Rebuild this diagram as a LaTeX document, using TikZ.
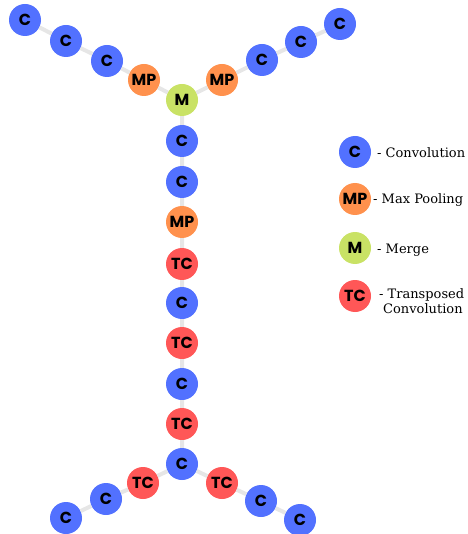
\documentclass[tikz,border=0pt]{standalone}
\usepackage{fontspec}
\setmainfont{DejaVu Serif}
\newfontfamily\nodefont{Poppins}
\definecolor{cblue}{HTML}{5271FF}
\definecolor{corange}{HTML}{FF914D}
\definecolor{cgreen}{HTML}{C9E265}
\definecolor{cred}{HTML}{FF5757}
\definecolor{edgegray}{HTML}{E6E6E6}
\tikzset{
  base/.style={circle, minimum size=32pt, inner sep=0pt, font=\nodefont\bfseries\fontsize{16}{16}\selectfont, text=black},
  cnode/.style={base, fill=cblue},
  mpnode/.style={base, fill=corange},
  mnode/.style={base, fill=cgreen},
  tcnode/.style={base, fill=cred},
  link/.style={draw=edgegray, line width=4pt},
  legend/.style={anchor=west, font=\fontsize{13}{17}\selectfont, inner sep=0pt, align=left}
}
\begin{document}
\begin{tikzpicture}[x=1pt,y=-1pt]
\useasboundingbox (0,0) rectangle (467,534);
% top left
\node[cnode] (a1) at (25,20) {C};
\node[cnode] (a2) at (66,41) {C};
\node[cnode] (a3) at (107,61) {C};
\node[mpnode] (a4) at (144,80) {MP};
\node[mnode] (m) at (182,100) {M};
% top right
\node[mpnode] (b4) at (222,80) {MP};
\node[cnode] (b3) at (262,60) {C};
\node[cnode] (b2) at (301,42) {C};
\node[cnode] (b1) at (340,24) {C};
% vertical
\node[cnode] (v1) at (182,141) {C};
\node[cnode] (v2) at (182,182) {C};
\node[mpnode] (v3) at (182,222) {MP};
\node[tcnode] (v4) at (182,264) {TC};
\node[cnode] (v5) at (182,303) {C};
\node[tcnode] (v6) at (182,343) {TC};
\node[cnode] (v7) at (182,384) {C};
\node[tcnode] (v8) at (182,424) {TC};
\node[cnode] (v9) at (182,464) {C};
% bottom left
\node[tcnode] (c1) at (143,483) {TC};
\node[cnode] (c2) at (106,499) {C};
\node[cnode] (c3) at (66,518) {C};
% bottom right
\node[tcnode] (d1) at (222,483) {TC};
\node[cnode] (d2) at (261,501) {C};
\node[cnode] (d3) at (300,520) {C};
% links
\draw[link] (a1) -- (a2) (a2) -- (a3) (a3) -- (a4) (a4) -- (m)
  (m) -- (b4) (b4) -- (b3) (b3) -- (b2) (b2) -- (b1)
  (m) -- (v1) (v1) -- (v2) (v2) -- (v3) (v3) -- (v4) (v4) -- (v5) (v5) -- (v6) (v6) -- (v7) (v7) -- (v8) (v8) -- (v9)
  (v9) -- (c1) (c1) -- (c2) (c2) -- (c3)
  (v9) -- (d1) (d1) -- (d2) (d2) -- (d3);
% legend
\node[cnode] (lc) at (355,152) {C};
\node[mpnode] (lmp) at (355,199) {MP};
\node[mnode] (lm) at (355,248) {M};
\node[tcnode] (ltc) at (355,296) {TC};
\node[legend] (tc) at (377,153) {- Convolution};
\node[legend] (tmp) at (373,200) {- Max Pooling};
\node[legend] (tm) at (377,250) {- Merge};
\node[legend, anchor=north west] (ttc) at (379,288) {- Transposed\\[-2pt]\hspace*{4pt}Convolution};
\end{tikzpicture}
\end{document}
